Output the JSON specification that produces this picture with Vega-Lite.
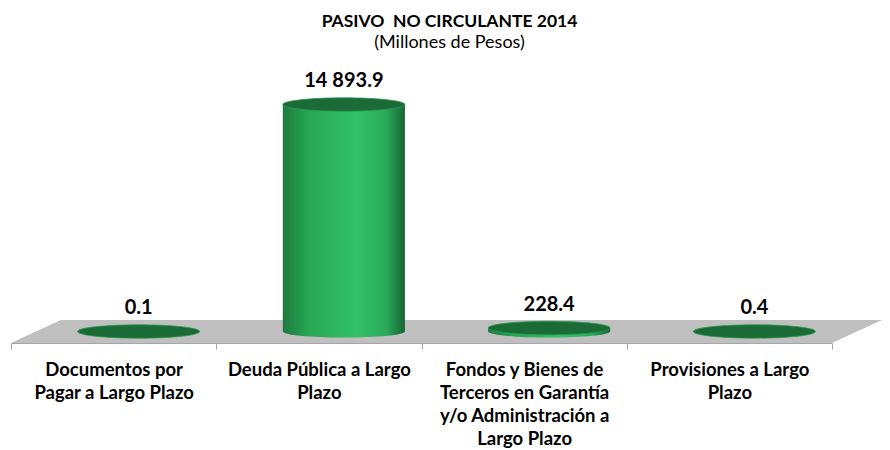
{
  "$schema": "https://vega.github.io/schema/vega-lite/v6.json",
  "autosize": "none",
  "width": 821,
  "height": 283,
  "padding": {"left": 11, "right": 58, "top": 60, "bottom": 107},
  "background": "white",
  "title": {
    "text": "PASIVO\u00a0 NO CIRCULANTE 2014",
    "subtitle": "(Millones de Pesos)",
    "anchor": "middle",
    "frame": "group",
    "dx": 28,
    "offset": 8,
    "font": "Lato",
    "fontSize": 17.5,
    "fontWeight": "bold",
    "color": "black",
    "subtitleFont": "Lato",
    "subtitleFontSize": 18,
    "subtitleColor": "black",
    "subtitlePadding": 4
  },
  "datasets": {
    "main": [
      {"cat": "Documentos por Pagar a Largo Plazo", "value": 0.1},
      {"cat": "Deuda Pública a Largo Plazo", "value": 14893.9},
      {"cat": "Fondos y Bienes de Terceros en Garantía y/o Administración a Largo Plazo", "value": 228.4},
      {"cat": "Provisiones a Largo Plazo", "value": 0.4}
    ],
    "base": [
      {"cat": "Documentos por Pagar a Largo Plazo", "value": 0},
      {"cat": "Deuda Pública a Largo Plazo", "value": 0},
      {"cat": "Fondos y Bienes de Terceros en Garantía y/o Administración a Largo Plazo", "value": 0},
      {"cat": "Provisiones a Largo Plazo", "value": 0}
    ]
  },
  "data": {"name": "main"},
  "encoding": {
    "x": {
      "field": "cat",
      "type": "nominal",
      "sort": [
        "Documentos por Pagar a Largo Plazo",
        "Deuda Pública a Largo Plazo",
        "Fondos y Bienes de Terceros en Garantía y/o Administración a Largo Plazo",
        "Provisiones a Largo Plazo"
      ],
      "scale": {"paddingInner": 0, "paddingOuter": 0},
      "axis": {
        "title": null,
        "labelAngle": 0,
        "tickBand": "extent",
        "domainColor": "#a6a6a6",
        "tickColor": "#a6a6a6",
        "tickSize": 6,
        "labelFont": "Lato",
        "labelFontWeight": "bold",
        "labelFontSize": 18.5,
        "labelColor": "black",
        "labelPadding": 11,
        "labelLineHeight": 23,
        "labelLimit": 300,
        "labelExpr": "datum.value == 'Documentos por Pagar a Largo Plazo' ? ['Documentos por', 'Pagar a Largo Plazo'] : datum.value == 'Deuda Pública a Largo Plazo' ? ['Deuda Pública a Largo', 'Plazo'] : datum.value == 'Provisiones a Largo Plazo' ? ['Provisiones a Largo', 'Plazo'] : datum.value == 'Fondos y Bienes de Terceros en Garantía y/o Administración a Largo Plazo' ? ['Fondos y Bienes de', 'Terceros en Garantía', 'y/o Administración a', 'Largo Plazo'] : ''"
      }
    },
    "y": {
      "field": "value",
      "type": "quantitative",
      "scale": {"domain": [0, 18568], "nice": false, "zero": true},
      "axis": null
    }
  },
  "layer": [
    {
      "data": {"name": "base"},
      "transform": [{"filter": "datum.cat == 'Deuda Pública a Largo Plazo'"}],
      "mark": {
        "type": "point",
        "filled": true,
        "shape": "M-0.6158,0L1.0262,0L1.1262,-0.046L-0.5158,-0.046Z",
        "size": 1000000,
        "color": "#bfbfbf",
        "opacity": 1,
        "strokeWidth": 0
      }
    },
    {
      "data": {"name": "base"},
      "mark": {
        "type": "point",
        "filled": true,
        "shape": "M-1,0A1,0.1,0,1,1,1,0A1,0.1,0,1,1,-1,0Z",
        "size": 14884,
        "opacity": 1,
        "strokeWidth": 0,
        "xOffset": 25,
        "yOffset": -11.5,
        "color": {
          "gradient": "linear", "x1": 0, "x2": 1, "y1": 0, "y2": 0,
          "stops": [
            {"offset": 0, "color": "#1b7a3d"},
            {"offset": 0.2, "color": "#27a553"},
            {"offset": 0.6, "color": "#33c168"},
            {"offset": 0.85, "color": "#2aa95a"},
            {"offset": 1, "color": "#176536"}
          ]
        }
      }
    },
    {
      "mark": {
        "type": "bar",
        "width": {"band": 0.595},
        "xOffset": 25,
        "yOffset": -11.5,
        "y2Offset": -11.5,
        "color": {
          "gradient": "linear", "x1": 0, "x2": 1, "y1": 0, "y2": 0,
          "stops": [
            {"offset": 0, "color": "#1b7a3d"},
            {"offset": 0.2, "color": "#27a553"},
            {"offset": 0.6, "color": "#33c168"},
            {"offset": 0.85, "color": "#2aa95a"},
            {"offset": 1, "color": "#176536"}
          ]
        }
      }
    },
    {
      "mark": {
        "type": "point",
        "filled": true,
        "shape": "M-1,0A1,0.11,0,1,1,1,0A1,0.11,0,1,1,-1,0Z",
        "size": 14884,
        "opacity": 1,
        "color": "#1a6b35",
        "stroke": "#2a9a52",
        "strokeWidth": 0.8,
        "xOffset": 25,
        "yOffset": -11.5
      }
    },
    {
      "mark": {
        "type": "text",
        "font": "Lato",
        "fontWeight": "bold",
        "fontSize": 20,
        "color": "black",
        "baseline": "alphabetic",
        "xOffset": 25,
        "yOffset": -29
      },
      "encoding": {
        "text": {"field": "value", "type": "quantitative", "format": ",.1f"}
      }
    }
  ],
  "config": {
    "view": {"stroke": null},
    "locale": {"number": {"decimal": ".", "thousands": " ", "grouping": [3], "currency": ["$", ""]}}
  }
}
